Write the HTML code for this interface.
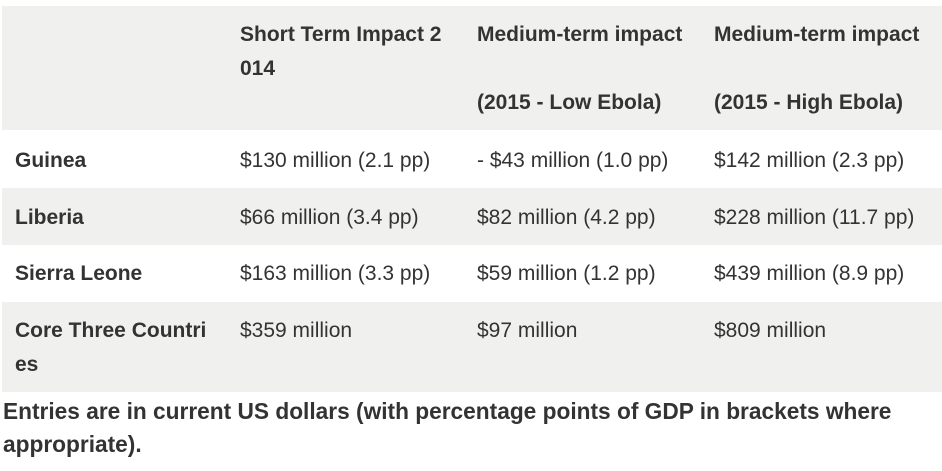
<!DOCTYPE html>
<html><head><style>
body{margin:0;width:942px;height:471px;background:#fff;position:relative;overflow:hidden;font-family:"Liberation Sans",Arial,sans-serif;font-size:21px;color:#333;}
.band{position:absolute;left:2px;width:940px;background:#f0f0ee;}
.t{position:absolute;line-height:34px;white-space:nowrap;}
.b{font-weight:bold;}
</style></head><body>
<div class="band" style="top:6px;height:124px"></div>
<div class="band" style="top:188px;height:57px"></div>
<div class="band" style="top:302px;height:90px"></div>

<div class="t b" style="left:240px;top:18px">Short Term Impact 2<br>014</div>
<div class="t b" style="left:477px;top:18px">Medium-term impact<br><br>(2015 - Low Ebola)</div>
<div class="t b" style="left:714px;top:18px">Medium-term impact<br><br>(2015 - High Ebola)</div>

<div class="t b" style="left:15px;top:144px">Guinea</div>
<div class="t" style="left:240px;top:144px">$130 million (2.1 pp)</div>
<div class="t" style="left:477px;top:144px">- $43 million (1.0 pp)</div>
<div class="t" style="left:714px;top:144px">$142 million (2.3 pp)</div>

<div class="t b" style="left:15px;top:201px">Liberia</div>
<div class="t" style="left:240px;top:201px">$66 million (3.4 pp)</div>
<div class="t" style="left:477px;top:201px">$82 million (4.2 pp)</div>
<div class="t" style="left:714px;top:201px">$228 million (11.7 pp)</div>

<div class="t b" style="left:15px;top:257px">Sierra Leone</div>
<div class="t" style="left:240px;top:257px">$163 million (3.3 pp)</div>
<div class="t" style="left:477px;top:257px">$59 million (1.2 pp)</div>
<div class="t" style="left:714px;top:257px">$439 million (8.9 pp)</div>

<div class="t b" style="left:15px;top:314px">Core Three Countri<br>es</div>
<div class="t" style="left:240px;top:314px">$359 million</div>
<div class="t" style="left:477px;top:314px">$97 million</div>
<div class="t" style="left:714px;top:314px">$809 million</div>

<div class="t b" style="left:3px;top:395px;font-size:22.7px;line-height:33px">Entries are in current US dollars (with percentage points of GDP in brackets where<br>appropriate).</div>
</body></html>
